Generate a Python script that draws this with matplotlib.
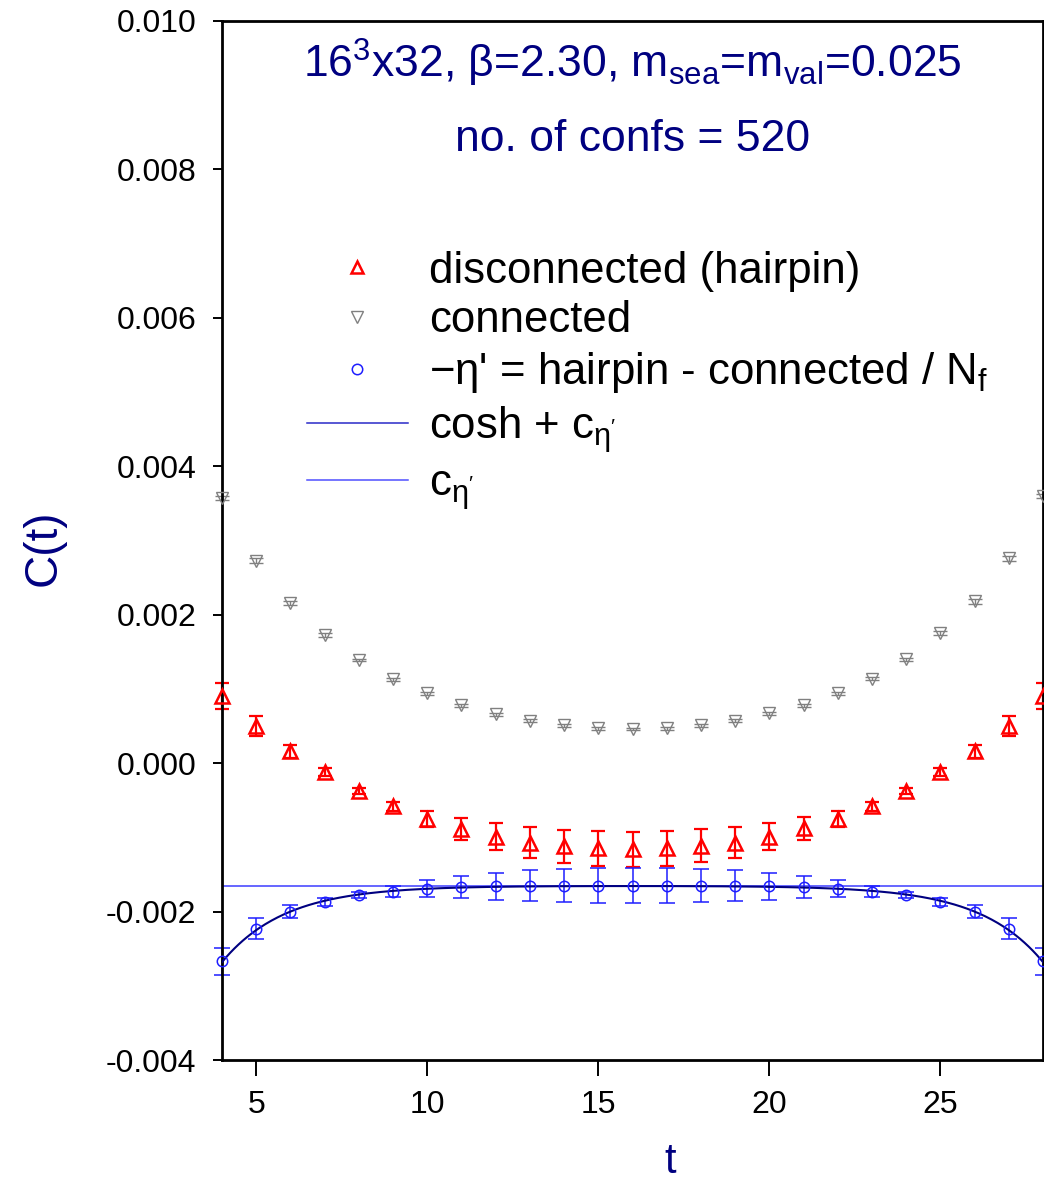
import numpy as np
import matplotlib
matplotlib.use('Agg')
import matplotlib.pyplot as plt
from matplotlib.lines import Line2D

plt.rcParams['font.family'] = ['Liberation Sans', 'DejaVu Sans']
plt.rcParams['mathtext.fontset'] = 'custom'
plt.rcParams['mathtext.rm'] = 'Liberation Sans'
plt.rcParams['mathtext.it'] = 'Liberation Sans:italic'
plt.rcParams['mathtext.bf'] = 'Liberation Sans:bold'

# time slices
t = [4, 5, 6, 7, 8, 9, 10, 11, 12, 13, 14, 15, 16,
     17, 18, 19, 20, 21, 22, 23, 24, 25, 26, 27, 28]

# connected correlator
connected = [0.00357, 0.00273, 0.00216, 0.00173, 0.00139, 0.00113, 0.00094, 0.00078, 0.00066,
             0.00057, 0.00051, 0.00047, 0.00046, 0.00047, 0.00051, 0.00057, 0.00067, 0.00078,
             0.00094, 0.00114, 0.00140, 0.00175, 0.00218, 0.00276, 0.00360]
connected_err = [0.00003, 0.00003, 0.00003, 0.00003, 0.00002, 0.00002, 0.00002, 0.00002, 0.00002,
                 0.00002, 0.00002, 0.00002, 0.00002, 0.00002, 0.00002, 0.00002, 0.00002, 0.00002,
                 0.00002, 0.00002, 0.00002, 0.00003, 0.00003, 0.00003, 0.00003]

# disconnected (hairpin)
hairpin = [0.00090, 0.00050, 0.00016, -0.00012, -0.00037, -0.00058, -0.00075, -0.00089, -0.00099,
           -0.00107, -0.00112, -0.00115, -0.00116, -0.00115, -0.00111, -0.00107, -0.00099, -0.00088,
           -0.00075, -0.00058, -0.00037, -0.00012, 0.00016, 0.00050, 0.00090]
hairpin_err = [0.000175, 0.000135, 0.00009, 0.00005, 0.00004, 0.00006, 0.00011, 0.00015, 0.00018,
               0.00021, 0.000225, 0.000234, 0.000236, 0.000236, 0.000225, 0.00021, 0.00018, 0.00015,
               0.00011, 0.00006, 0.00004, 0.00005, 0.00009, 0.000135, 0.000175]

# -eta' = hairpin - connected / Nf
eta = [-0.00267, -0.00223, -0.00200, -0.00187, -0.00178, -0.00173, -0.00169, -0.00167, -0.00166,
       -0.00165, -0.00165, -0.00165, -0.00165, -0.00165, -0.00165, -0.00165, -0.00166, -0.00167,
       -0.00169, -0.00173, -0.00178, -0.00187, -0.00200, -0.00223, -0.00267]
eta_err = [0.00018, 0.00014, 0.00009, 0.000055, 0.00004, 0.00007, 0.00011, 0.000146, 0.00018,
           0.000207, 0.000227, 0.000238, 0.000238, 0.000238, 0.000225, 0.000205, 0.00018, 0.000145,
           0.00011, 0.00007, 0.00004, 0.000055, 0.00009, 0.00014, 0.00018]

# fit : cosh + c
c_eta = -0.001653
fit_amp = 0.00902
fit_mass = 0.543
T = 32

yticks = [-0.004, -0.002, 0.000, 0.002, 0.004, 0.006, 0.008, 0.010]
ytick_labels = ['-0.004', '-0.002', '0.000', '0.002', '0.004', '0.006', '0.008', '0.010']
xticks = [5, 10, 15, 20, 25]

navy = '#000080'
red = '#ff0000'
grey = '#808080'
blue = '#1e1eff'

fig = plt.figure(figsize=(10.44, 11.81), dpi=100)
ax = fig.add_axes([222/1044, 1 - 1060/1181, 821/1044, 1039/1181])

# fit curve
tt = np.linspace(t[0], t[-1], 400)
fit = c_eta - fit_amp * (np.exp(-fit_mass * tt) + np.exp(-fit_mass * (T - tt)))
ax.plot(tt, fit, color=navy, lw=1.5, zorder=3)
ax.axhline(c_eta, color='#3c3cff', lw=1.1, zorder=2)

# error bars
ax.errorbar(t, connected, yerr=connected_err, fmt='none', ecolor=grey, elinewidth=1.0,
            capsize=5, capthick=1.0, clip_on=False)
ax.errorbar(t, hairpin, yerr=hairpin_err, fmt='none', ecolor=red, elinewidth=1.6,
            capsize=5, capthick=1.6, clip_on=False)
ax.errorbar(t, eta, yerr=eta_err, fmt='none', ecolor=blue, elinewidth=1.1,
            capsize=5.5, capthick=1.1, clip_on=False)

# markers
ax.plot(t, connected, 'v', ms=8.5, mfc='none', mec=grey, mew=1.0, clip_on=False, zorder=4)
ax.plot(t, hairpin, '^', ms=10, mfc='none', mec=red, mew=1.8, clip_on=False, zorder=4)
ax.plot(t, eta, 'o', ms=7.5, mfc='none', mec=blue, mew=1.1, clip_on=False, zorder=4)

ax.set_xlim(4, 28)
ax.set_ylim(-0.004, 0.010)
ax.set_xticks(xticks)
ax.set_xticklabels([str(x) for x in xticks])
ax.set_yticks(yticks)
ax.set_yticklabels(ytick_labels)
ax.tick_params(axis='x', direction='out', length=11.5, width=1.4, labelsize=23, pad=10)
ax.tick_params(axis='y', direction='out', length=6.5, width=1.4, labelsize=23, pad=12)
for s in ax.spines.values():
    s.set_linewidth(2)

ax.set_ylabel('C(t)', color=navy, fontsize=33)
ax.yaxis.set_label_coords(-0.191, 0.493)
ax.set_xlabel('t', color=navy, fontsize=30)
ax.xaxis.set_label_coords(0.546, -0.079)

ax.text(0.5, 0.9596, r'16$^{\mathregular{3}}$x32, β=2.30, m$_{\mathregular{sea}}$=m$_{\mathregular{val}}$=0.025',
        transform=ax.transAxes, ha='center', va='center', color=navy, fontsize=32)
ax.text(0.5, 0.8855, 'no. of confs = 520', transform=ax.transAxes, ha='center', va='center',
        color=navy, fontsize=32)

handles = [
    Line2D([], [], ls='none', marker='^', ms=9, mfc='none', mec=red, mew=1.8),
    Line2D([], [], ls='none', marker='v', ms=8, mfc='none', mec=grey, mew=1.0),
    Line2D([], [], ls='none', marker='o', ms=7.5, mfc='none', mec=blue, mew=1.1),
    Line2D([], [], color='#2a2ac8', lw=1.1),
    Line2D([], [], color='#5050ff', lw=1.1),
]
labels = [
    'disconnected (hairpin)',
    'connected',
    "−η' = hairpin - connected / N$_{\\mathregular{f}}$",
    "cosh + c$_{\\mathregular{η'}}$",
    "c$_{\\mathregular{η'}}$",
]
ax.legend(handles, labels, loc='upper left', bbox_to_anchor=(0.1035, 0.779), frameon=False,
          fontsize=31.5, borderpad=0, borderaxespad=0, handlelength=2.3, handletextpad=0.5,
          labelspacing=0.2)

fig.savefig('out.png', dpi=100)
